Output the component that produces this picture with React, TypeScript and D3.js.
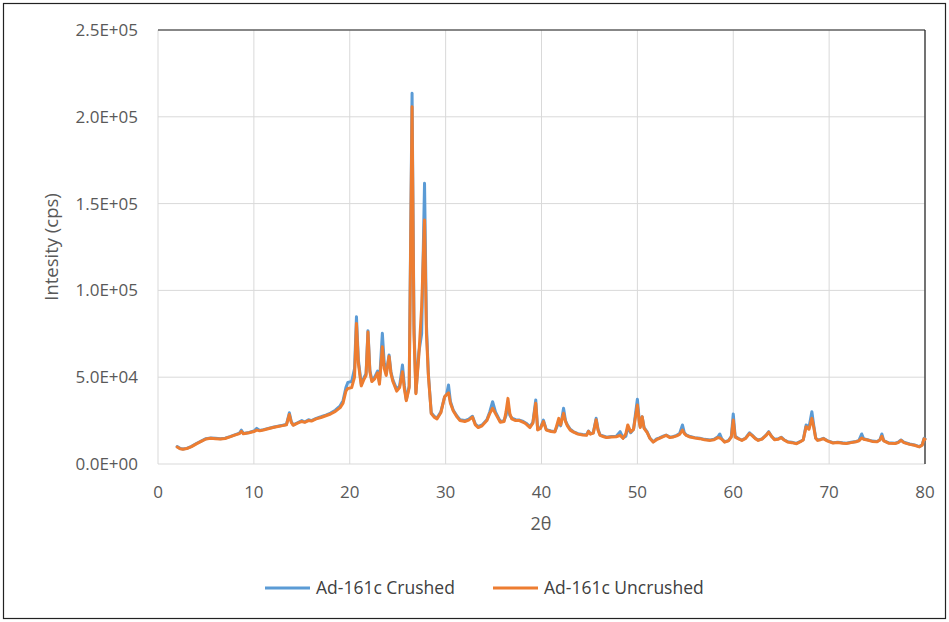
import React from "react";
import * as d3 from "d3";

const angles = [2.0,2.3,2.6,3.0,3.5,4.0,4.5,5.0,5.5,6.0,6.5,7.0,7.5,8.0,8.5,8.7,8.9,9.5,10.0,10.3,10.6,11.0,11.5,12.0,12.5,13.0,13.4,13.7,13.9,14.1,14.5,15.0,15.3,15.7,16.0,16.5,17.0,17.5,18.0,18.5,19.0,19.3,19.6,19.8,20.2,20.5,20.7,20.9,21.2,21.5,21.7,21.9,22.1,22.3,22.6,22.9,23.1,23.4,23.6,23.8,24.1,24.3,24.5,24.9,25.2,25.5,25.7,25.9,26.2,26.5,26.7,26.9,27.2,27.5,27.8,28.0,28.2,28.5,28.8,29.1,29.5,29.9,30.1,30.3,30.5,30.8,31.2,31.5,32.0,32.4,32.8,33.1,33.4,33.8,34.3,34.6,34.9,35.2,35.7,36.1,36.3,36.5,36.7,36.9,37.3,37.7,38.1,38.4,38.8,39.1,39.4,39.6,39.9,40.2,40.5,41.0,41.4,41.8,42.0,42.3,42.5,42.7,43.0,43.3,43.8,44.3,44.7,44.9,45.1,45.4,45.7,45.9,46.1,46.5,46.8,47.3,47.8,48.2,48.5,48.8,49.0,49.3,49.6,50.0,50.2,50.3,50.5,50.7,51.0,51.3,51.65,52.0,52.3,52.7,53.0,53.4,53.7,54.1,54.4,54.7,54.9,55.1,55.5,56.0,56.5,57.0,57.6,58.0,58.4,58.6,58.8,59.1,59.5,59.8,60.0,60.2,60.5,60.9,61.3,61.7,62.0,62.3,62.6,63.0,63.4,63.7,64.0,64.3,64.7,65.0,65.3,65.7,66.1,66.6,67.0,67.3,67.6,67.9,68.2,68.4,68.6,68.8,69.1,69.4,69.8,70.4,70.9,71.4,71.8,72.3,72.8,73.1,73.4,73.6,74.0,74.5,75.0,75.3,75.5,75.7,76.2,76.9,77.2,77.5,77.8,78.4,78.9,79.4,79.7,79.9,80.0];

const crushed = [10000,9000,8600,9000,10200,11800,13200,14600,15000,14800,14600,14900,15800,16800,17800,19500,17600,18200,19000,20500,19300,19800,20500,21200,21800,22300,22800,29500,24500,22500,23600,25000,24200,25500,25000,26300,27200,28200,29300,31000,33500,36500,44000,47000,47500,55000,84800,60000,46000,50000,52000,76800,54000,48500,50000,53500,47000,75300,58000,52000,62800,53000,48500,43000,45000,57000,45000,37000,45000,213500,80000,41000,64000,75000,161700,80000,52000,29500,27500,26500,30000,38800,40000,45500,36000,31000,27500,25500,25000,25800,27500,23000,21500,22500,25500,30000,35900,30000,24500,25000,28000,34000,28000,26500,25500,25300,24500,23500,21500,24000,36900,20000,21000,25300,19800,19000,18800,24000,22000,32100,25000,22500,20000,18700,17500,17000,16800,19000,17500,18000,26300,20000,16800,16000,15400,15800,16000,18600,15000,16000,21000,18000,20000,37300,25000,21500,27200,21000,18600,15000,12800,14500,15000,16000,16700,15500,15700,16500,17500,22500,18000,16700,15800,15200,14800,14200,13800,14200,15700,17300,14500,12800,13500,16000,28800,16000,14800,13800,15000,18000,16500,14800,13800,14500,16500,18600,16000,14200,14500,15400,14000,12800,12500,11900,13000,14000,22500,21000,30100,22000,15000,13800,14200,14800,13500,12300,12600,12200,12000,12500,13000,13500,17300,14500,14000,13200,13000,14000,17300,13500,12200,12000,12500,13800,12500,11500,11000,10000,11000,14800,14500];

const uncrushed = [9800,8800,8500,8900,10000,11600,13000,14400,14800,14600,14400,14700,15600,16600,17500,18800,17400,18000,18700,19500,19100,19600,20300,21000,21600,22100,22600,28500,24000,22300,23400,24500,24000,25000,24700,26000,26800,27800,28800,30300,32500,35000,42000,43500,44000,50000,81000,58000,45000,49000,51000,76000,53000,47500,49000,52500,46000,67600,55000,51000,62000,52000,47500,42000,44000,53200,43000,36500,44000,205800,75000,40500,62000,90600,140500,75000,51000,29000,27000,26000,29500,38800,40000,41000,35000,30500,27000,25000,24500,25300,27000,22500,21000,22000,25000,29000,32100,29000,24000,24500,30000,37800,29000,26000,25000,25000,24000,23000,21000,23500,35000,19600,20500,24500,19500,18700,18500,26300,22500,29200,24500,22000,19500,18500,17200,16700,16500,18800,17200,17800,25500,19500,16500,15700,15200,15500,15700,16500,14800,17500,22500,18500,20000,34000,24000,21000,27200,20500,18300,14800,12600,14000,14800,15800,16500,15200,15500,16200,17000,19600,17500,16500,15500,15000,14600,14000,13600,14000,15200,15000,14300,12600,13300,15500,25300,15500,14600,13600,14800,17500,16200,14600,13600,14300,16300,18300,15800,14000,14300,15200,13800,12600,12300,11700,12800,13800,21500,20000,26300,21000,14800,13600,14000,14600,13300,12100,12400,12000,11800,12300,12800,13300,15000,14300,13800,13000,12800,13800,16000,13300,12000,11800,12300,13600,12300,11300,10800,9900,10800,14500,14200];

const xTicks = [0, 10, 20, 30, 40, 50, 60, 70, 80];
const yTicks = [0, 50000, 100000, 150000, 200000, 250000];
const seriesNames = ["Ad-161c Crushed", "Ad-161c Uncrushed"];
const seriesColors = ["#5b9bd5", "#ed7d31"];

const W = 949;
const H = 622;
const M = { left: 158, right: 925, top: 30, bottom: 464 };
const FONT = "'Open Sans', sans-serif";

export default function App() {
  const x = d3.scaleLinear().domain([0, 80]).range([M.left, M.right]);
  const y = d3.scaleLinear().domain([0, 250000]).range([M.bottom, M.top]);
  const fmt = (v: number) => {
    const s = v.toExponential(1).toUpperCase();
    const [m, e] = s.split("E");
    const sign = e.startsWith("-") ? "-" : "+";
    const ex = e.replace(/[+-]/, "").padStart(2, "0");
    return `${m}E${sign}${ex}`;
  };
  const line = (vals: number[]) =>
    d3
      .line<number>()
      .x((_, i) => x(angles[i]))
      .y((d) => y(d))(vals) || "";
  const series = [crushed, uncrushed];

  return (
    <svg
      width={W}
      height={H}
      style={{ position: "absolute", left: 0, top: 0, background: "#fff" }}
    >
      <rect x={3.5} y={3.5} width={942} height={615} fill="#fff" stroke="#222" strokeWidth={1.2} />
      {xTicks.map((t) => (
        <line key={"gx" + t} x1={x(t)} x2={x(t)} y1={M.top} y2={M.bottom} stroke="#d9d9d9" strokeWidth={1} />
      ))}
      {yTicks.map((t) => (
        <line key={"gy" + t} x1={M.left} x2={M.right} y1={y(t)} y2={y(t)} stroke="#d9d9d9" strokeWidth={1} />
      ))}
      <line x1={M.left} x2={M.right} y1={M.top} y2={M.top} stroke="#222" strokeWidth={1.2} />
      <line x1={M.right} x2={M.right} y1={M.top} y2={M.bottom} stroke="#222" strokeWidth={1.2} />
      {series.map((s, i) => (
        <path
          key={seriesNames[i]}
          d={line(s)}
          fill="none"
          stroke={seriesColors[i]}
          strokeWidth={3}
          strokeLinejoin="round"
          strokeLinecap="round"
        />
      ))}
      {yTicks.map((t) => (
        <text key={"ty" + t} x={138} y={y(t)} dy="0.35em" textAnchor="end" fontFamily={FONT} fontSize={17} fill="#595959">
          {fmt(t)}
        </text>
      ))}
      {xTicks.map((t) => (
        <text key={"tx" + t} x={x(t)} y={492} dy="0.35em" textAnchor="middle" fontFamily={FONT} fontSize={17} fill="#595959">
          {t}
        </text>
      ))}
      <text
        transform={`translate(52,${(M.top + M.bottom) / 2}) rotate(-90)`}
        textAnchor="middle"
        dy="0.35em"
        fontFamily={FONT}
        fontSize={18.5}
        fill="#595959"
      >
        Intesity (cps)
      </text>
      <text x={541} y={524} dy="0.35em" textAnchor="middle" fontFamily={FONT} fontSize={18} fill="#595959">
        2θ
      </text>
      {seriesNames.map((n, i) => {
        const lx = i === 0 ? 265 : 493;
        return (
          <g key={"lg" + n}>
            <line x1={lx} x2={lx + 45} y1={588} y2={588} stroke={seriesColors[i]} strokeWidth={3} />
            <text x={lx + 51} y={588} dy="0.35em" fontFamily={FONT} fontSize={17.5} fill="#404040">
              {n}
            </text>
          </g>
        );
      })}
    </svg>
  );
}
